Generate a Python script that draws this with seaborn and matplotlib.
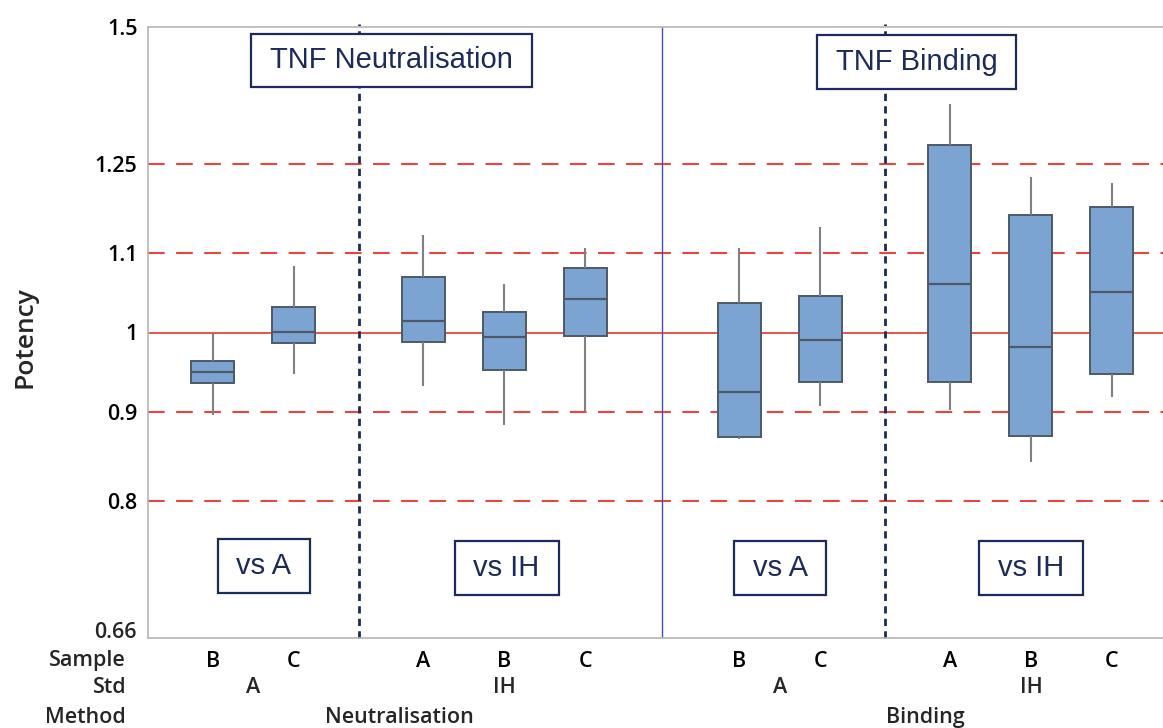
"""
Potency boxplots: TNF neutralisation vs TNF binding
"""

import numpy as np
import pandas as pd
import matplotlib
matplotlib.use("Agg")
import matplotlib.pyplot as plt
from matplotlib.patches import Rectangle
from matplotlib.transforms import ScaledTranslation
import seaborn as sns

# one box per (method, std, sample); five-number summaries
methods = ["Neutralisation"] * 5 + ["Binding"] * 5
stds = ["A", "A", "IH", "IH", "IH", "A", "A", "IH", "IH", "IH"]
samples = ["B", "C", "A", "B", "C", "B", "C", "A", "B", "C"]

pot_min = [0.896, 0.946, 0.932, 0.884, 0.900, 0.868, 0.907, 0.902, 0.842, 0.918]
pot_q1 = [0.935, 0.986, 0.987, 0.952, 0.995, 0.871, 0.936, 0.936, 0.872, 0.947]
pot_med = [0.949, 1.001, 1.015, 0.994, 1.046, 0.924, 0.990, 1.067, 0.981, 1.055]
pot_q3 = [0.963, 1.035, 1.076, 1.028, 1.089, 1.040, 1.050, 1.282, 1.168, 1.181]
pot_max = [1.000, 1.092, 1.138, 1.067, 1.119, 1.119, 1.151, 1.354, 1.230, 1.219]

ytick_vals = [1 / 1.5, 0.8, 0.9, 1.0, 1 / 0.9, 1.25, 1.5]
ytick_labels = ["0.66", "0.8", "0.9", "1", "1.1", "1.25", "1.5"]
ref_dashed = [0.8, 0.9, 1 / 0.9, 1.25]

NAVY = "#1c2b5a"
BOX_FACE = "#7ba4d2"
BOX_EDGE = "#4d5966"
RED = "#e8453f"
FS = 15.5

# x positions: unit step inside a std group, wider gaps between groups
positions = []
x = 0.0
for i in range(len(samples)):
    if i > 0:
        x += 1.0
        if methods[i] != methods[i - 1]:
            x += 0.9
        elif stds[i] != stds[i - 1]:
            x += 0.6
    positions.append(round(x, 2))

rows = []
for i, p in enumerate(positions):
    for v in (pot_min[i], pot_q1[i], pot_med[i], pot_q3[i], pot_max[i]):
        rows.append({"pos": p, "potency": v})
df = pd.DataFrame(rows)

sns.set_style("white")
plt.rcParams["font.family"] = ["Open Sans", "DejaVu Sans"]

fig = plt.figure(figsize=(11.63, 7.28), dpi=100)
ax = fig.add_axes([148 / 1163, 1 - 638 / 728, 1 - 148 / 1163, 611 / 728])

# reference lines behind the boxes
for yv in ref_dashed:
    ax.axhline(yv, color=RED, lw=1.5, ls=(0, (8, 5.5)), zorder=0)
ax.axhline(1.0, color=RED, lw=1.3, zorder=0)

sns.boxplot(data=df, x="pos", y="potency", native_scale=True, width=0.53,
            whis=(0, 100), color=BOX_FACE, saturation=1, showcaps=False,
            linecolor=BOX_EDGE, linewidth=1.4,
            whiskerprops=dict(color="#808080", lw=1.5),
            medianprops=dict(color=BOX_EDGE, lw=1.6),
            ax=ax, zorder=2)

ax.set_yscale("log")
ax.set_ylim(1 / 1.5, 1.5)
ax.set_xlim(-0.8, 11.73)
ax.set_yticks(ytick_vals)
ax.set_yticklabels([""] + ytick_labels[1:])
ax.yaxis.set_minor_locator(matplotlib.ticker.NullLocator())
ax.set_xticks(positions)
ax.set_xticklabels(samples)
ax.set_xlabel("")
ax.set_ylabel("")
ax.tick_params(axis="both", length=4.5, width=1, color="#b5b5b5",
               labelsize=FS, labelcolor="black", pad=3, direction="out")
ax.tick_params(axis="x", pad=5)
for lab in ax.get_xticklabels() + ax.get_yticklabels():
    lab.set_fontweight("semibold")
for side in ("left", "top", "bottom"):
    ax.spines[side].set_color("#b5b5b5")
    ax.spines[side].set_linewidth(1.2)
ax.spines["right"].set_visible(False)

# lowest tick label, nudged up a little so it clears the "Sample" row
ylab_trans = ax.get_yaxis_transform() + ScaledTranslation(-11 / 100, 5 / 100,
                                                          fig.dpi_scale_trans)
ax.text(0, ytick_vals[0], ytick_labels[0], transform=ylab_trans, ha="right",
        va="center", fontsize=FS, fontweight="semibold")

# separators between std groups and methods
for i in range(1, len(samples)):
    mid = (positions[i] + positions[i - 1]) / 2
    if methods[i] != methods[i - 1]:
        ax.axvline(mid, color="#4a4ac8", lw=1.0, zorder=1)
    elif stds[i] != stds[i - 1]:
        ax.axvline(mid, color=NAVY, lw=2.0, ls=(0, (2.6, 1.9)), zorder=1,
                   ymax=1.005, clip_on=False)

# hierarchical axis labels
trans = ax.get_xaxis_transform()
std_groups = {}
meth_groups = {}
for i, p in enumerate(positions):
    std_groups.setdefault((methods[i], stds[i]), []).append(p)
    meth_groups.setdefault(methods[i], []).append(p)
for (m, s), ps in std_groups.items():
    ax.text(np.mean([ps[0], ps[-1]]), -0.0818, s, transform=trans,
            ha="center", va="center", fontsize=FS, fontweight="semibold")
for m, ps in meth_groups.items():
    ax.text(np.mean([ps[0], ps[-1]]), -0.1309, m, transform=trans,
            ha="center", va="center", fontsize=FS, fontweight="semibold")
for yy, name in [(-0.037, "Sample"), (-0.0818, "Std"), (-0.1309, "Method")]:
    ax.text(-0.0215, yy, name, transform=ax.transAxes, ha="right",
            va="center", fontsize=FS, fontweight="semibold")

fig.text(25 / 1163, 1 - 337 / 728, "Potency", rotation=90, ha="center",
         va="center", fontsize=19, fontweight="semibold")

# framed panel labels (centre px, box size px)
px_per_unit = (1112 - 213) / (positions[-1] - positions[0])


def label_box(cx_px, cy_px, w_px, h_px, text):
    xc = positions[0] + (cx_px - 213) / px_per_unit
    yc = (638 - cy_px) / 611
    w = w_px / px_per_unit
    h = h_px / 611
    ax.add_patch(Rectangle((xc - w / 2, yc - h / 2), w, h, transform=trans,
                           facecolor="white", edgecolor=NAVY, lw=1.6,
                           zorder=4, clip_on=False))
    ax.text(xc, yc, text, transform=trans, ha="center", va="center",
            fontsize=21, color=NAVY, zorder=5,
            family=["Liberation Sans", "DejaVu Sans"])


label_box(391.5, 60.5, 281, 53, "TNF Neutralisation")
label_box(917, 62, 199, 54, "TNF Binding")
label_box(264, 566, 92, 54, "vs A")
label_box(506.7, 568, 104, 54, "vs IH")
label_box(780.5, 568, 92, 54, "vs A")
label_box(1031, 568, 104, 54, "vs IH")

fig.savefig("out.png", dpi=100)
plt.close(fig)
